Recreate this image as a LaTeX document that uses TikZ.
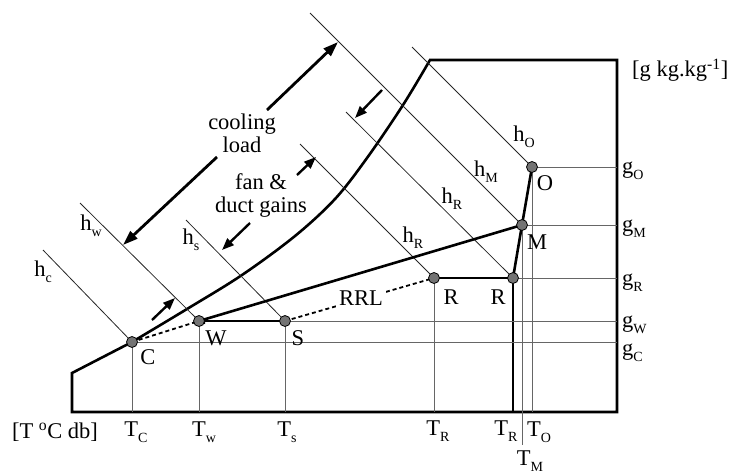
\documentclass[tikz,border=0pt]{standalone}
\usepackage{fontspec}
\setmainfont{Liberation Serif}
\usetikzlibrary{arrows.meta}
\newcommand\subl[2]{#1\raisebox{-0.55ex}{\fontsize{14}{14}\selectfont #2}}
\begin{document}
\begin{tikzpicture}[x=1pt,y=-1pt,
  frame/.style={line width=2.6pt, line join=miter},
  hline/.style={line width=0.8pt, black!85},
  gline/.style={line width=0.8pt, black!60},
  proc/.style={line width=2.6pt},
  dsh/.style={line width=1.8pt, dash pattern=on 4pt off 3pt},
  pt/.style={circle, draw=black, line width=0.8pt, fill=black!55, inner sep=0pt, minimum size=11pt},
  lbl/.style={font=\fontsize{22.5}{23}\selectfont, inner sep=0pt},
  arr/.style={line width=2.8pt, -{Triangle[length=15pt,width=10pt]}},
  sarr/.style={line width=2.4pt, -{Triangle[length=12pt,width=9pt]}},
  ]
\useasboundingbox (0,0) rectangle (734,475);
% frame coordinates
\coordinate (F1) at (72,412);
\coordinate (F2) at (72,373);
\coordinate (F4) at (617,60);
\coordinate (F5) at (617,412);
\coordinate (TMend) at (522,445);
% enthalpy line starts
\coordinate (hc0) at (43,250);
\coordinate (hw0) at (80,203);
\coordinate (hs0) at (186,220);
\coordinate (hR0) at (300,144);
\coordinate (hRp0) at (346,112);
\coordinate (hM0) at (310,13);
\coordinate (hO0) at (412,47);
% state points (positions)
\coordinate (Cc) at (132,342);
\coordinate (Wc) at (199,321);
\coordinate (Sc) at (285,321);
\coordinate (Rc) at (434,278);
\coordinate (Rpc) at (513,278);
\coordinate (Mc) at (522,225);
\coordinate (Oc) at (532,167);

% frame with saturation curve
\draw[frame] (F1) -- (F2) -- (Cc) -- plot[smooth, tension=0.55] coordinates {(132,342) (187,309) (242,275) (295,236) (335,199) (367,158) (403,105) (430,60)} -- (F4) -- (F5) -- cycle;

% T lines
\draw[gline] (Cc) -- (Cc |- F1);
\draw[gline] (Wc) -- (Wc |- F1);
\draw[gline] (Sc) -- (Sc |- F1);
\draw[gline] (Rc) -- (Rc |- F1);
\draw[line width=1.4pt] (Rpc) -- (Rpc |- F1);
\draw[gline] (Mc) -- (TMend);
\draw[gline] (Oc) -- (Oc |- F1);
% g lines
\draw[gline] (Oc) -- (Oc -| F5);
\draw[gline] (Mc) -- (Mc -| F5);
\draw[gline] (Rpc) -- (Rpc -| F5);
\draw[gline] (Sc) -- (Sc -| F5);
\draw[gline] (Cc) -- (Cc -| F5);
% enthalpy lines
\draw[hline] (hc0) -- (Cc);
\draw[hline] (hw0) -- (Wc);
\draw[hline] (hs0) -- (Sc);
\draw[hline] (hR0) -- (Rc);
\draw[hline] (hRp0) -- (Rpc);
\draw[hline] (hM0) -- (Mc);
\draw[hline] (hO0) -- (Oc);

% process lines
\draw[dsh] (Cc) -- (Wc);
\draw[dsh] (Sc) -- (Rc);
\draw[proc] (Wc) -- (Mc);
\draw[proc] (Rc) -- (Rpc);
\draw[proc] (Rpc) -- (Mc);
\draw[proc] (Mc) -- (Oc);
\draw[proc, -{Triangle[length=6pt,width=6pt]}] (Sc) -- (Wc);

% state point markers
\node[pt] (C) at (Cc) {};
\node[pt] (W) at (Wc) {};
\node[pt] (S) at (Sc) {};
\node[pt] (R) at (Rc) {};
\node[pt] (Rp) at (Rpc) {};
\node[pt] (M) at (Mc) {};
\node[pt] (O) at (Oc) {};

% RRL label
\node[lbl, fill=white, inner sep=3pt] (rrl) at (361,298) {RRL};

% point labels
\node[lbl] (lC) at (148,357) {C};
\node[lbl] (lW) at (216,338) {W};
\node[lbl] (lS) at (298,338) {S};
\node[lbl] (lR) at (451,297) {R};
\node[lbl] (lRp) at (498,297) {R};
\node[lbl] (lM) at (537,242) {M};
\node[lbl] (lO) at (545,183) {O};

% enthalpy labels
\node[lbl] (lhc) at (43,272) {\subl{h}{c}};
\node[lbl] (lhw) at (91,226) {\subl{h}{w}};
\node[lbl] (lhs) at (191,240) {\subl{h}{s}};
\node[lbl] (lhR) at (413,238) {\subl{h}{R}};
\node[lbl] (lhRp) at (452,199) {\subl{h}{R}};
\node[lbl] (lhM) at (486,172) {\subl{h}{M}};
\node[lbl] (lhO) at (524,137) {\subl{h}{O}};

% g labels
\node[lbl, anchor=west] (lgO) at (622,171) {\subl{g}{O}};
\node[lbl, anchor=west] (lgM) at (622,229) {\subl{g}{M}};
\node[lbl, anchor=west] (lgR) at (622,283) {\subl{g}{R}};
\node[lbl, anchor=west] (lgW) at (622,325) {\subl{g}{W}};
\node[lbl, anchor=west] (lgC) at (622,353) {\subl{g}{C}};

% T labels
\node[lbl] (lTC) at (136,432) {\subl{T}{C}};
\node[lbl] (lTw) at (204,432) {\subl{T}{w}};
\node[lbl] (lTs) at (287,432) {\subl{T}{s}};
\node[lbl] (lTR) at (438,431) {\subl{T}{R}};
\node[lbl] (lTRp) at (506,431) {\subl{T}{R}};
\node[lbl] (lTO) at (539,432) {\subl{T}{O}};
\node[lbl] (lTM) at (530,461) {\subl{T}{M}};

% axis labels
\node[lbl] (ax) at (55,432) {[T \textsuperscript{o}C db]};
\node[lbl, anchor=west] (ay) at (632,70) {[g kg.kg\textsuperscript{-1}]};

% text labels
\node[lbl, align=center] (cl) at (242,133) {cooling\\load};
\node[lbl, align=center] (fd) at (261,195) {fan \&\\duct gains};

% arrow end coordinates
\coordinate (a1s) at (267,110); \coordinate (a1e) at (338,42);
\coordinate (a2s) at (217,157); \coordinate (a2e) at (123,245);
\coordinate (a3s) at (297,175); \coordinate (a3e) at (316,157);
\coordinate (a4s) at (250,223); \coordinate (a4e) at (222,250);
\coordinate (a5s) at (152,320); \coordinate (a5e) at (175,298);
\coordinate (a6s) at (382,90);  \coordinate (a6e) at (355,118);
\draw[arr] (a1s) -- (a1e);
\draw[arr] (a2s) -- (a2e);
\draw[sarr] (a3s) -- (a3e);
\draw[sarr] (a4s) -- (a4e);
\draw[sarr] (a5s) -- (a5e);
\draw[sarr] (a6s) -- (a6e);
\end{tikzpicture}
\end{document}
